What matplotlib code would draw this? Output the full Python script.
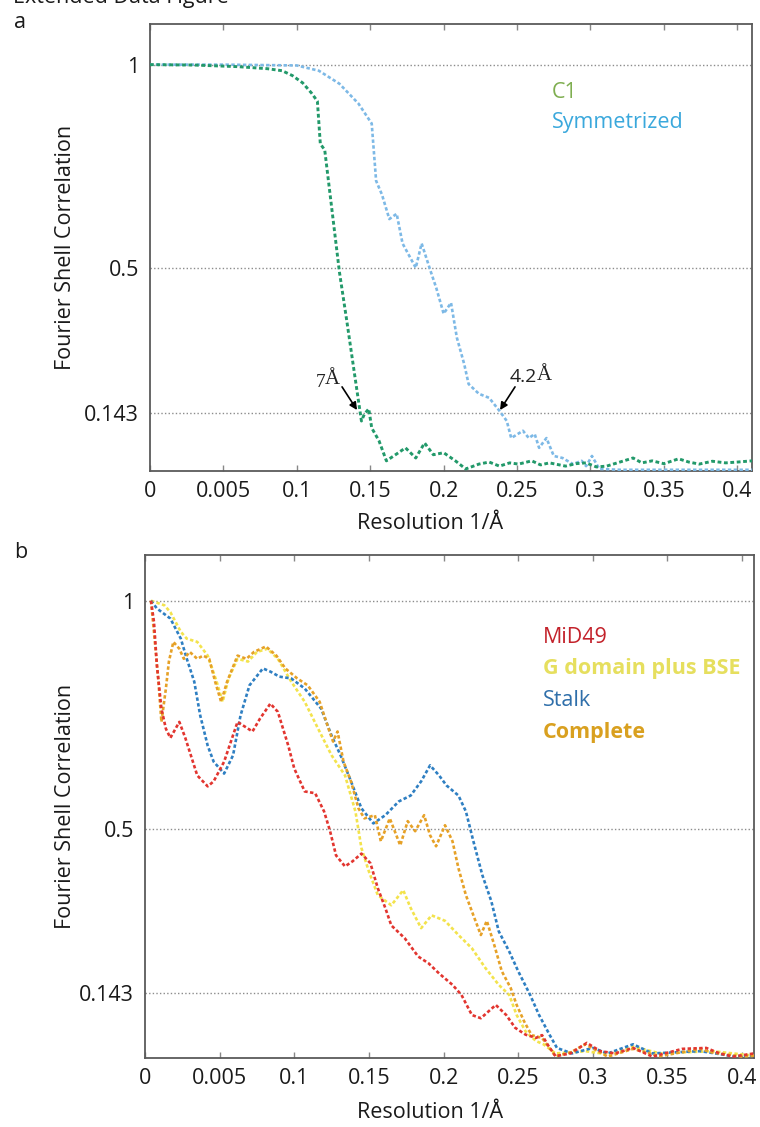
import matplotlib
matplotlib.use("Agg")
import matplotlib.pyplot as plt

plt.rcParams['font.family'] = ['Open Sans', 'DejaVu Sans']

# ---------------- data: panel a ----------------
c1_x = [0, 0.03, 0.06, 0.08, 0.09, 0.097, 0.104, 0.110, 0.114, 0.116, 0.119, 0.122, 0.129, 0.134,
        0.139, 0.144, 0.146, 0.149, 0.151, 0.156, 0.161, 0.168, 0.174, 0.181, 0.187, 0.193, 0.200,
        0.208, 0.215, 0.224, 0.231, 0.238, 0.245, 0.251, 0.260, 0.266, 0.272, 0.283, 0.290, 0.297,
        0.304, 0.311, 0.320, 0.329, 0.335, 0.342, 0.350, 0.360, 0.367, 0.374, 0.383, 0.392, 0.400, 0.41]
c1_y = [1.0, 0.999, 0.995, 0.99, 0.985, 0.973, 0.955, 0.93, 0.91, 0.805, 0.79, 0.70, 0.49, 0.37,
        0.246, 0.123, 0.14, 0.153, 0.106, 0.074, 0.025, 0.042, 0.057, 0.032, 0.069, 0.04, 0.045,
        0.025, 0.005, 0.017, 0.022, 0.012, 0.02, 0.017, 0.025, 0.015, 0.02, 0.012, 0.018, 0.02,
        0.01, 0.012, 0.022, 0.032, 0.02, 0.025, 0.018, 0.03, 0.022, 0.017, 0.024, 0.02, 0.022, 0.025]

sym_x = [0, 0.05, 0.1, 0.115, 0.129, 0.142, 0.151, 0.154, 0.158, 0.163, 0.168, 0.172, 0.181, 0.185,
         0.191, 0.195, 0.200, 0.205, 0.209, 0.214, 0.217, 0.224, 0.231, 0.238, 0.243, 0.246, 0.254,
         0.258, 0.262, 0.265, 0.270, 0.275, 0.281, 0.288, 0.294, 0.297, 0.301, 0.306, 0.32, 0.35,
         0.38, 0.41]
sym_y = [1.0, 1.0, 0.998, 0.985, 0.953, 0.904, 0.855, 0.714, 0.68, 0.62, 0.633, 0.56, 0.50, 0.56,
         0.493, 0.45, 0.387, 0.414, 0.328, 0.263, 0.214, 0.19, 0.18, 0.148, 0.123, 0.081, 0.099,
         0.081, 0.091, 0.057, 0.081, 0.037, 0.032, 0.017, 0.025, 0.012, 0.037, 0.005, 0.003, 0.003,
         0.003, 0.003]

# ---------------- data: panel b ----------------
mid_x = [0.004, 0.006, 0.008, 0.011, 0.014, 0.017, 0.023, 0.027, 0.035, 0.042, 0.046, 0.053, 0.062,
         0.072, 0.077, 0.084, 0.089, 0.096, 0.100, 0.107, 0.114, 0.120, 0.124, 0.128, 0.134, 0.139,
         0.145, 0.151, 0.156, 0.161, 0.165, 0.174, 0.183, 0.190, 0.197, 0.206, 0.212, 0.219, 0.225,
         0.235, 0.242, 0.248, 0.255, 0.262, 0.266, 0.270, 0.275, 0.285, 0.296, 0.305, 0.315, 0.327,
         0.340, 0.360, 0.376, 0.385, 0.394, 0.408]
mid_y = [1.0, 0.954, 0.858, 0.764, 0.72, 0.70, 0.735, 0.70, 0.618, 0.594, 0.605, 0.648, 0.735,
         0.714, 0.742, 0.775, 0.757, 0.683, 0.633, 0.583, 0.579, 0.539, 0.496, 0.443, 0.419, 0.430,
         0.447, 0.426, 0.371, 0.328, 0.29, 0.262, 0.222, 0.207, 0.185, 0.16, 0.138, 0.094, 0.087,
         0.116, 0.094, 0.066, 0.051, 0.044, 0.05, 0.028, 0.004, 0.01, 0.033, 0.015, 0.01, 0.022,
         0.003, 0.02, 0.022, 0.01, 0.003, 0.01]

stalk_x = [0.004, 0.008, 0.017, 0.024, 0.028, 0.033, 0.037, 0.042, 0.046, 0.053, 0.059, 0.064, 0.070,
           0.079, 0.084, 0.090, 0.098, 0.107, 0.118, 0.125, 0.131, 0.138, 0.145, 0.153, 0.161, 0.170,
           0.178, 0.185, 0.191, 0.197, 0.202, 0.210, 0.215, 0.220, 0.226, 0.232, 0.237, 0.244, 0.250,
           0.258, 0.264, 0.271, 0.276, 0.286, 0.300, 0.310, 0.327, 0.340, 0.372, 0.394, 0.408]
stalk_y = [1.0, 0.983, 0.961, 0.917, 0.873, 0.823, 0.749, 0.683, 0.648, 0.622, 0.662, 0.749, 0.815,
           0.852, 0.845, 0.834, 0.83, 0.808, 0.764, 0.705, 0.662, 0.605, 0.546, 0.513, 0.531, 0.561,
           0.574, 0.605, 0.64, 0.618, 0.596, 0.574, 0.539, 0.474, 0.40, 0.343, 0.277, 0.233, 0.19,
           0.138, 0.094, 0.051, 0.022, 0.01, 0.022, 0.01, 0.03, 0.01, 0.015, 0.004, 0.005]

gdom_x = [0.004, 0.013, 0.017, 0.024, 0.028, 0.035, 0.042, 0.048, 0.052, 0.056, 0.062, 0.069, 0.075,
          0.082, 0.089, 0.098, 0.107, 0.116, 0.125, 0.134, 0.141, 0.145, 0.150, 0.156, 0.165, 0.173,
          0.178, 0.185, 0.192, 0.201, 0.210, 0.219, 0.228, 0.237, 0.244, 0.249, 0.255, 0.262, 0.267,
          0.275, 0.295, 0.310, 0.327, 0.345, 0.38, 0.408]
gdom_y = [1.0, 0.99, 0.975, 0.932, 0.917, 0.91, 0.88, 0.823, 0.779, 0.83, 0.873, 0.867, 0.888,
          0.895, 0.873, 0.823, 0.779, 0.72, 0.662, 0.618, 0.539, 0.459, 0.408, 0.356, 0.334, 0.367,
          0.328, 0.284, 0.312, 0.30, 0.269, 0.24, 0.197, 0.16, 0.138, 0.094, 0.058, 0.037, 0.03,
          0.01, 0.015, 0.008, 0.025, 0.01, 0.015, 0.005]

comp_x = [0.004, 0.006, 0.009, 0.011, 0.014, 0.016, 0.019, 0.023, 0.026, 0.030, 0.035, 0.039, 0.043,
          0.047, 0.051, 0.055, 0.062, 0.068, 0.073, 0.081, 0.088, 0.094, 0.102, 0.109, 0.117, 0.123,
          0.126, 0.129, 0.133, 0.138, 0.143, 0.147, 0.154, 0.158, 0.164, 0.171, 0.176, 0.181, 0.187,
          0.191, 0.195, 0.201, 0.206, 0.210, 0.215, 0.220, 0.225, 0.229, 0.234, 0.239, 0.245, 0.249,
          0.254, 0.259, 0.266, 0.271, 0.275, 0.285, 0.295, 0.310, 0.327, 0.345, 0.372, 0.380, 0.400,
          0.408]
comp_y = [1.0, 0.932, 0.823, 0.735, 0.808, 0.867, 0.91, 0.895, 0.873, 0.888, 0.873, 0.88, 0.873,
          0.823, 0.779, 0.823, 0.88, 0.873, 0.888, 0.9, 0.88, 0.852, 0.83, 0.815, 0.779, 0.72,
          0.692, 0.714, 0.648, 0.605, 0.546, 0.524, 0.531, 0.474, 0.524, 0.465, 0.518, 0.496, 0.531,
          0.487, 0.463, 0.509, 0.474, 0.415, 0.356, 0.312, 0.269, 0.30, 0.247, 0.19, 0.153, 0.116,
          0.08, 0.05, 0.044, 0.022, 0.004, 0.012, 0.03, 0.003, 0.02, 0.004, 0.02, 0.012, 0.003, 0.005]

x_ticks = [0, 0.05, 0.1, 0.15, 0.2, 0.25, 0.3, 0.35, 0.4]
x_ticklabels = ["0", "0.005", "0.1", "0.15", "0.2", "0.25", "0.3", "0.35", "0.4"]
y_ticks = [0.143, 0.5, 1.0]
y_ticklabels = ["0.143", "0.5", "1"]

# ---------------- figure ----------------
W, H = 760, 1127
fig = plt.figure(figsize=(W / 100, H / 100), dpi=100)

def px_axes(left, top, right, bottom):
    return fig.add_axes([left / W, 1 - bottom / H, (right - left) / W, (bottom - top) / H])

ax_a = px_axes(150, 24, 752, 471)
ax_b = px_axes(145, 555, 754, 1058)

spine_col = "#5a5a5a"
grid_col = "#8c8c8c"
dash = (0, (1.3, 0.9))
FS = 15.5

for ax, xmax, ylab_x, xlab_y, xlab_x in [(ax_a, 0.41, -0.123, -0.094, 0.465),
                                          (ax_b, 0.408, -0.113, -0.088, 0.468)]:
    ax.set_xlim(0, xmax)
    ax.set_ylim(0, 1.1)
    ax.set_xticks(x_ticks)
    ax.set_xticklabels(x_ticklabels)
    ax.set_yticks(y_ticks)
    ax.set_yticklabels(y_ticklabels)
    for s in ax.spines.values():
        s.set_color(spine_col)
        s.set_linewidth(1.3)
    ax.tick_params(axis='x', direction='in', top=True, bottom=True, length=4,
                   width=1, color="#888888", labelsize=FS, pad=7, labelcolor="#1a1a1a")
    ax.tick_params(axis='y', length=0, labelsize=FS, pad=8, labelcolor="#1a1a1a")
    for yv in y_ticks:
        ax.axhline(yv, color=grid_col, lw=1.0, ls=(0, (1, 1.6)), zorder=1)
    ax.set_ylabel("Fourier Shell Correlation", fontsize=FS, color="#1a1a1a")
    ax.yaxis.set_label_coords(ylab_x, 0.5)
    ax.set_xlabel("Resolution 1/Å", fontsize=FS, color="#1a1a1a")
    ax.xaxis.set_label_coords(xlab_x, xlab_y)

# panel a curves
ax_a.plot(sym_x, sym_y, color="#7db9e6", lw=1.9, ls=dash, zorder=3)
ax_a.plot(c1_x, c1_y, color="#22996a", lw=2.1, ls=dash, zorder=4)

ax_a.text(0.2738, 0.931, "C1", color="#7fae50", fontsize=FS, va='center', ha='left')
ax_a.text(0.2738, 0.857, "Symmetrized", color="#3aa8dc", fontsize=FS, va='center', ha='left')

arrow = dict(arrowstyle='-|>', color='black', lw=1.2, mutation_scale=11, shrinkA=0, shrinkB=0)
ax_a.annotate('', xy=(0.141, 0.150), xytext=(0.1308, 0.207), arrowprops=arrow, zorder=6)
ax_a.text(0.1192, 0.219, "7", family=['Liberation Serif'], fontsize=14, ha='right', va='center',
          color="#222222")
ax_a.text(0.1192, 0.224, "Å", family=['Liberation Serif'], fontsize=15, ha='left', va='center',
          color="#222222")
ax_a.annotate('', xy=(0.2384, 0.150), xytext=(0.2486, 0.207), arrowprops=arrow, zorder=6)
ax_a.text(0.2636, 0.2315, "4.2", fontsize=14, ha='right', va='center', color="#222222")
ax_a.text(0.2636, 0.236, "Å", family=['Liberation Serif'], fontsize=15, ha='left', va='center',
          color="#222222")

# panel b curves
ax_b.plot(gdom_x, gdom_y, color="#f3e34c", lw=1.9, ls=dash, zorder=3)
ax_b.plot(stalk_x, stalk_y, color="#2e7fc2", lw=1.9, ls=dash, zorder=4)
ax_b.plot(comp_x, comp_y, color="#e6a127", lw=1.9, ls=dash, zorder=5)
ax_b.plot(mid_x, mid_y, color="#e2352f", lw=1.9, ls=dash, zorder=6)

ax_b.text(0.2666, 0.920, "MiD49", color="#c3222b", fontsize=FS, va='center', ha='left')
ax_b.text(0.2666, 0.852, "G domain plus BSE", color="#e6df5e", fontsize=FS, va='center',
          ha='left', fontweight='bold')
ax_b.text(0.2666, 0.782, "Stalk", color="#2f6faa", fontsize=FS, va='center', ha='left')
ax_b.text(0.2666, 0.712, "Complete", color="#d9a01f", fontsize=FS, va='center', ha='left',
          fontweight='bold')

# panel letters and the header line that the reference shows cut off at the top edge
fig.text(20 / W, 1 - 23 / H, "a", fontsize=FS, ha='center', va='center', color="#1a1a1a")
fig.text(21 / W, 1 - 553 / H, "b", fontsize=FS, ha='center', va='center', color="#1a1a1a")
fig.text(13 / W, 1 - 3 / H, "Extended Data Figure", fontsize=FS, ha='left', va='baseline',
         color="#1a1a1a")

fig.savefig("out.png", dpi=100)
